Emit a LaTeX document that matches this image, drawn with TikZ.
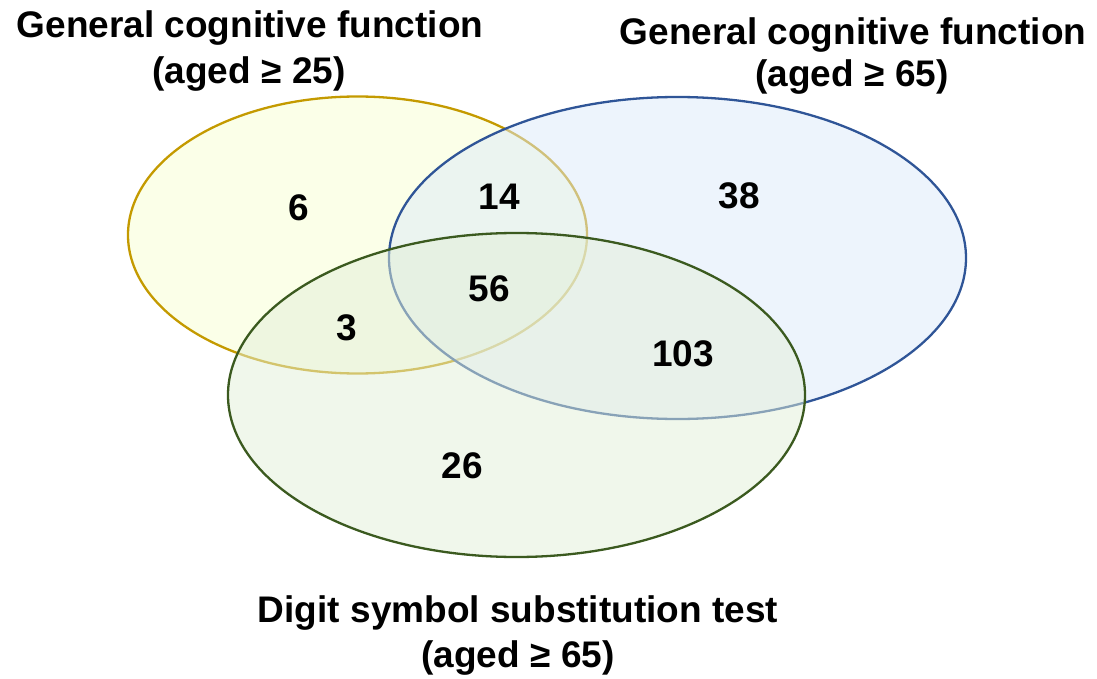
\documentclass[tikz,border=0pt]{standalone}
\usepackage{fontspec}
\setmainfont{Liberation Sans}
\definecolor{ylline}{HTML}{C49A00}
\definecolor{ylfill}{HTML}{F8FFD8}
\definecolor{blline}{HTML}{2F5597}
\definecolor{blfill}{HTML}{DCE9F9}
\definecolor{grline}{HTML}{3B5A1F}
\definecolor{grfill}{HTML}{E2EFD8}
\tikzset{
  setline/.style={line width=2.3pt},
  lbl/.style={font=\fontsize{37}{44}\selectfont\bfseries, inner sep=0pt, anchor=base},
  num/.style={font=\fontsize{37}{44}\selectfont\bfseries, inner sep=0pt}
}
\begin{document}
\begin{tikzpicture}[x=1pt,y=-1pt]
\useasboundingbox (0,0) rectangle (1097,679);
% sets
\path[fill=ylfill, fill opacity=0.6] (357.5,235) ellipse [x radius=229.5, y radius=138.5];
\draw[setline, ylline] (357.5,235) ellipse [x radius=229.5, y radius=138.5];
\path[fill=blfill, fill opacity=0.5] (677.5,258) ellipse [x radius=288.5, y radius=161];
\draw[setline, blline] (677.5,258) ellipse [x radius=288.5, y radius=161];
\path[fill=grfill, fill opacity=0.5] (516.5,395) ellipse [x radius=288.5, y radius=162];
\draw[setline, grline] (516.5,395) ellipse [x radius=288.5, y radius=162];
% titles
\node[lbl] (t1a) at (250,38) {General cognitive function};
\node[lbl] (t1b) at (249,84) {(aged ≥ 25)};
\node[lbl] (t2a) at (853,45) {General cognitive function};
\node[lbl] (t2b) at (852,87) {(aged ≥ 65)};
\node[lbl] (t3a) at (518,622) {Digit symbol substitution test};
\node[lbl] (t3b) at (518,667) {(aged ≥ 65)};
% counts
\node[num] (n6) at (299,208) {6};
\node[num] (n14) at (499,197) {14};
\node[num] (n38) at (739,196) {38};
\node[num] (n56) at (489,289) {56};
\node[num] (n3) at (347,328) {3};
\node[num] (n103) at (683,354) {103};
\node[num] (n26) at (462,466) {26};
\end{tikzpicture}
\end{document}
